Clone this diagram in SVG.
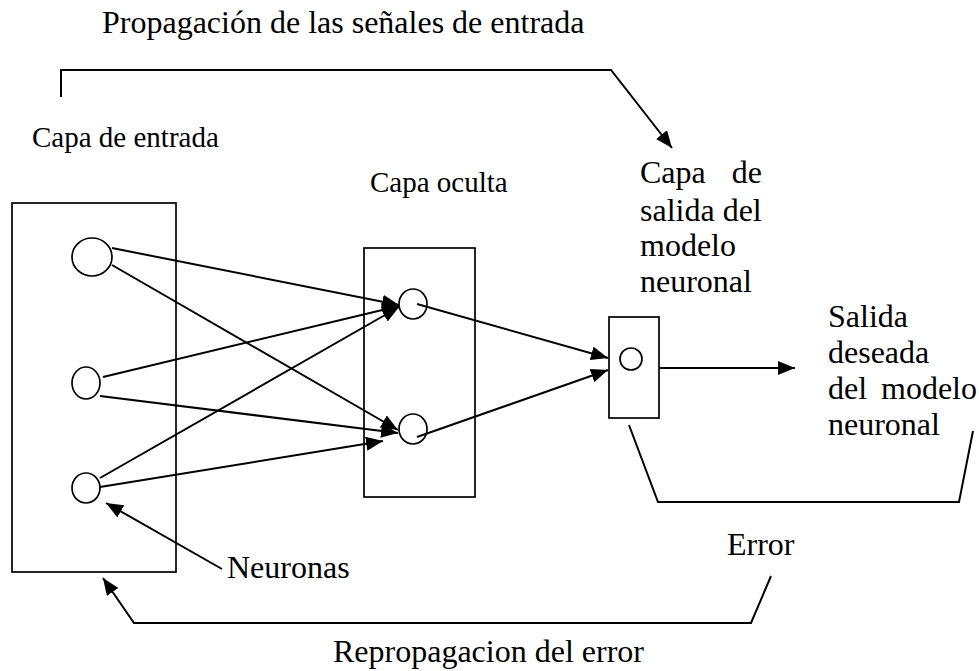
<svg xmlns="http://www.w3.org/2000/svg" width="979" height="671" viewBox="0 0 979 671">
<style>
  text { font-family: "Liberation Serif", "Times New Roman", serif; fill: #000; }
  .big { font-size: 32px; }
  .mid { font-size: 29px; }
  .box { fill: none; stroke: #000; stroke-width: 1.7; }
  .neuron { fill: #fff; stroke: #000; stroke-width: 1.7; }
  .conn { fill: none; stroke: #000; stroke-width: 2; }
  .arr { marker-end: url(#ah); }
</style>
<defs>
  <marker id="ah" markerUnits="userSpaceOnUse" markerWidth="18" markerHeight="14" refX="17" refY="7" orient="auto">
    <path d="M0,0 L17,7 L0,14 z" fill="#000"/>
  </marker>
</defs>
<rect width="979" height="671" fill="#fff"/>

<g id="title"><text class="big" x="102" y="33">Propagación de las señales de entrada</text></g>

<g id="input-layer">
  <rect class="box" x="12" y="203" width="164" height="369"/>
  <ellipse class="neuron" cx="92" cy="257" rx="20" ry="19"/>
  <ellipse class="neuron" cx="86" cy="383" rx="14" ry="16"/>
  <ellipse class="neuron" cx="86" cy="488" rx="14" ry="15"/>
  <text class="mid" x="32" y="147">Capa de entrada</text>
</g>

<g id="hidden-layer">
  <rect class="box" x="364" y="248" width="111" height="249"/>
  <ellipse class="neuron" cx="413" cy="304" rx="14" ry="15"/>
  <ellipse class="neuron" cx="413" cy="429" rx="14" ry="15"/>
  <text class="mid" x="370" y="192">Capa oculta</text>
</g>

<g id="output-layer">
  <rect class="box" x="609" y="317" width="50" height="101"/>
  <ellipse class="neuron" cx="631" cy="359" rx="11" ry="11"/>
  <text class="big" x="640" y="183">Capa</text>
  <text class="big" x="762" y="183" text-anchor="end">de</text>
  <text class="big" x="640" y="221">salida del</text>
  <text class="big" x="640" y="256">modelo</text>
  <text class="big" x="640" y="292">neuronal</text>
</g>

<g id="desired-output">
  <text class="big" x="828" y="327">Salida</text>
  <text class="big" x="828" y="363">deseada</text>
  <text class="big" x="828" y="399">del</text>
  <text class="big" x="977" y="399" text-anchor="end">modelo</text>
  <text class="big" x="828" y="435">neuronal</text>
</g>

<g id="labels">
  <text class="big" x="727" y="555">Error</text>
  <text class="big" x="227" y="578">Neuronas</text>
  <text class="big" x="333" y="662">Repropagacion del error</text>
</g>

<g id="connectors">
  <polyline class="conn arr" points="61,97 61,70 611,70 672,148"/>
  <line class="conn arr" x1="112" y1="248" x2="399" y2="305"/>
  <line class="conn arr" x1="112" y1="265" x2="398" y2="430"/>
  <line class="conn arr" x1="103" y1="377" x2="399" y2="306"/>
  <line class="conn arr" x1="100" y1="396" x2="398" y2="433"/>
  <line class="conn arr" x1="100" y1="478" x2="399" y2="307"/>
  <line class="conn arr" x1="100" y1="487" x2="383" y2="441"/>
  <line class="conn arr" x1="417" y1="304" x2="608" y2="358"/>
  <line class="conn arr" x1="417" y1="437" x2="608" y2="370"/>
  <line class="conn arr" x1="659" y1="368" x2="795" y2="368"/>
  <line class="conn arr" x1="222" y1="569" x2="106" y2="503"/>
  <polyline class="conn" points="629,425 658,502 959,502 973,431"/>
  <polyline class="conn arr" points="771,576 751,623 134,623 103,578"/>
</g>
</svg>
